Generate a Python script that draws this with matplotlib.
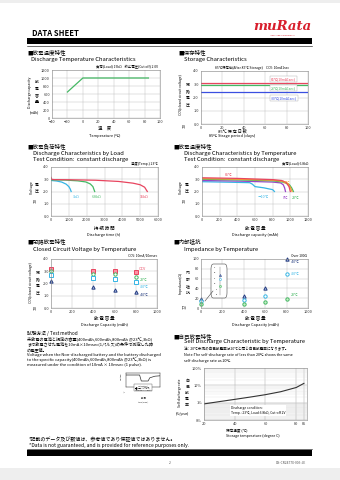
import matplotlib
matplotlib.use("Agg")
from matplotlib import pyplot as plt
from matplotlib.patches import Rectangle, FancyBboxPatch
from matplotlib.lines import Line2D

plt.rcParams['font.family'] = ['Noto Sans CJK JP', 'DejaVu Sans']

W, H = 340, 480

# discharge temperature characteristics
dt_temp = [-20, 0, 85]
dt_cap = [650, 1000, 1000]

# storage characteristics
st_days = [0, 100]
st_85 = [3.1, 3.1]
st_23 = [2.95, 2.95]
st_m30 = [2.4, 2.4]

# discharge by load (time h, voltage V)
ld_3k_t = [0, 300, 600, 850, 1000, 1080, 1130]
ld_3k_v = [2.9, 2.86, 2.77, 2.6, 2.4, 2.2, 2.0]
ld_68k_t = [0, 800, 1500, 1950, 2200, 2350, 2450]
ld_68k_v = [2.95, 2.93, 2.87, 2.78, 2.62, 2.4, 2.0]
ld_15k_t = [0, 30, 150, 1000, 2500, 3800, 4600, 5000, 5250, 5400]
ld_15k_v = [3.15, 3.0, 2.97, 2.96, 2.92, 2.82, 2.68, 2.55, 2.35, 2.0]

# discharge by temperature (capacity mAh, voltage V)
tp_85_c = [0, 400, 800, 900, 950, 985, 1000]
tp_85_v = [3.12, 3.07, 2.97, 2.9, 2.75, 2.4, 2.0]
tp_60_c = [0, 400, 800, 920, 970, 1000, 1020]
tp_60_v = [3.05, 3.0, 2.92, 2.83, 2.65, 2.35, 2.0]
tp_23_c = [0, 400, 800, 930, 990, 1015, 1035]
tp_23_v = [3.0, 2.95, 2.87, 2.75, 2.55, 2.3, 2.0]
tp_0_c = [0, 400, 800, 890, 920, 935, 945]
tp_0_v = [2.9, 2.85, 2.77, 2.7, 2.55, 2.3, 2.0]
tp_m10_c = [0, 300, 540, 570, 600, 700, 800, 820]
tp_m10_v = [2.8, 2.76, 2.72, 2.6, 2.4, 2.3, 2.15, 2.0]

# closed circuit voltage by temperature
ccv_cap = [0, 400, 600, 800]
ccv_ocv = [3.2, 3.0, 3.0, 2.9]
ccv_23 = [3.05, 2.8, 2.75, 2.5]
ccv_m20 = [2.7, 2.45, 2.35, 2.1]
ccv_m40 = [2.2, 1.75, 1.5, 1.3]

# impedance by temperature
imp_cap = [0, 400, 600, 800]
imp_m40 = [18, 24, 40, 100]
imp_m20 = [14, 17, 25, 70]
imp_23 = [8, 8, 12, 18]

# self discharge rate
sd_temp = [20, 30, 40, 50, 60, 70, 80, 85]
sd_rate = [0.85, 1.15, 1.55, 2.1, 2.9, 4.3, 7.5, 13]

RED = '#e8455f'
GREEN = '#45b864'
BLUE = '#3a4fe0'
CYAN = '#35b5e5'
NAVY = '#243c80'
PURPLE = '#9a45c8'
ORANGE = '#f5a030'

fig = plt.figure(figsize=(W / 100, H / 100), dpi=100)


def px_axes(x0, y0, x1, y1):
    return fig.add_axes([x0 / W, 1 - y1 / H, (x1 - x0) / W, (y1 - y0) / H])


def t(x, y, s, size=3.2, **kw):
    kw.setdefault('va', 'center')
    fig.text(x / W, 1 - y / H, s, fontsize=size, **kw)


def style(ax, xlim, xticks, ylim, yticks, yfmt=None):
    ax.set_xlim(*xlim)
    ax.set_ylim(*ylim)
    ax.set_xticks(xticks)
    ax.set_yticks(yticks)
    if yfmt:
        ax.set_yticklabels([yfmt.format(v) for v in yticks])
    ax.tick_params(labelsize=2.8, length=0, pad=1.5, colors='#333333')
    ax.grid(True, color='#bbbbbb', lw=0.3)
    for sp in ax.spines.values():
        sp.set_color('#888888')
        sp.set_linewidth(0.4)


def rect(x0, y0, x1, y1, color):
    fig.patches.append(Rectangle((x0 / W, 1 - y1 / H), (x1 - x0) / W, (y1 - y0) / H,
                                 transform=fig.transFigure, color=color, lw=0))


def hline(x0, x1, y, lw=0.5, color='black'):
    fig.lines.append(Line2D([x0 / W, x1 / W], [1 - y / H, 1 - y / H],
                            transform=fig.transFigure, color=color, lw=lw))


# header
rect(0, 0, W, 3, '#eeeeee')
rect(0, 468, W, H, '#eeeeee')
t(32, 33, 'DATA SHEET', size=5.5, weight='bold')
t(282, 26, 'muRata', size=9.5, weight='bold', style='italic', color='#d81e2c', ha='center',
  family='DejaVu Serif')
t(282, 35, 'INNOVATOR IN ELECTRONICS', size=1.3, color='#d81e2c', ha='center')
rect(27, 38, 312, 44, 'black')
hline(27, 312, 45.5, lw=0.4)

# ---- chart 1: discharge temperature
t(27, 52, '■放電温度特性', size=4)
t(31, 59, 'Discharge Temperature Characteristics', size=4.2)
ax = px_axes(52, 70, 160, 118)
style(ax, (-40, 100), range(-40, 101, 20), (0, 1200), range(0, 1201, 200))
ax.plot(dt_temp, dt_cap, color=GREEN, lw=0.9)
t(158, 67, '負荷(Load) 15kΩ    終止電圧(Cut off) 2.0V', size=2.4, ha='right')
t(30, 92, 'Discharge capacity', size=2.6, rotation=90, ha='center')
t(37, 92, '放\n電\n容\n量', size=2.8, ha='center', linespacing=1.9)
t(34, 112, '(mAh)', size=2.4, ha='center')
t(105, 128, '温　度', size=3.2, ha='center')
t(105, 136, 'Temperature (℃)', size=2.8, ha='center')

# ---- chart 2: storage
t(178, 52, '■保存特性', size=4)
t(184, 59, 'Storage Characteristics', size=4.2)
ax = px_axes(201, 71, 308, 124)
style(ax, (0, 100), range(0, 101, 20), (0, 4), [0, 1, 2, 3, 4], '{:.1f}')
ax.plot(st_days, st_85, color=RED, lw=0.9)
ax.plot(st_days, st_23, color=GREEN, lw=0.9)
ax.plot(st_days, st_m30, color=BLUE, lw=0.9)
t(252, 68, '85℃保存後(After 85℃ Storage)    CCV: 10mA1sec', size=2.4, ha='center')
for y, s, c in [(79, '85℃(10mA1sec)', RED), (88, '23℃(10mA1sec)', GREEN), (98, '-30℃(10mA1sec)', BLUE)]:
    t(271, y, s, size=2.4, color=c, bbox=dict(boxstyle='square,pad=0.2', fc='white', ec='#aaaaaa', lw=0.3))
t(181, 95, 'CCV(closed circuit voltage)', size=2.4, rotation=90, ha='center')
t(188, 95, '閉\n路\n電\n圧', size=2.8, ha='center', linespacing=1.9)
t(184, 126, '(V)', size=2.4, ha='center')
t(232, 131, '85℃ 保 存 日 数', size=3.0, ha='center')
t(232, 136, '85℃ Strage period (days)', size=2.8, ha='center')

# ---- chart 3: discharge by load
t(27, 146, '■放電負荷特性', size=4)
t(33, 153, 'Discharge Characteristics by Load', size=4.2)
t(33, 159, 'Test Condition:  constant discharge', size=4.2)
ax = px_axes(51, 167, 158, 216)
style(ax, (0, 6000), range(0, 6001, 1000), (0, 4), [0, 1, 2, 3, 4], '{:.1f}')
ax.plot(ld_3k_t, ld_3k_v, color=CYAN, lw=0.9)
ax.plot(ld_68k_t, ld_68k_v, color=GREEN, lw=0.9)
ax.plot(ld_15k_t, ld_15k_v, color=RED, lw=0.9)
t(158, 163.5, '温度(Temp.) 23℃', size=2.4, ha='right')
t(73, 197, '3kΩ', size=2.6, color=CYAN)
t(92, 197, '6.8kΩ', size=2.6, color=GREEN)
t(140, 197, '15kΩ', size=2.6, color=RED)
t(32, 188, 'Voltage', size=2.6, rotation=90, ha='center')
t(37, 188, '電\n圧', size=2.8, ha='center', linespacing=1.9)
t(35, 201, '(V)', size=2.4, ha='center')
t(104, 228, '持 続 時 間', size=3.2, ha='center')
t(104, 235, 'Discharge time (h)', size=2.8, ha='center')

# ---- chart 4: discharge by temperature
t(173, 146, '■放電温度特性', size=4)
t(184, 153, 'Discharge Characteristics by Temperature', size=4.2)
t(184, 159, 'Test Condition:  constant discharge', size=4.2)
ax = px_axes(202, 167, 308, 216)
style(ax, (0, 1200), range(0, 1201, 200), (0, 4), [0, 1, 2, 3, 4], '{:.1f}')
ax.plot(tp_m10_c, tp_m10_v, color=CYAN, lw=0.9)
ax.plot(tp_0_c, tp_0_v, color=PURPLE, lw=0.9)
ax.plot(tp_23_c, tp_23_v, color=GREEN, lw=0.9)
ax.plot(tp_60_c, tp_60_v, color=ORANGE, lw=0.9)
ax.plot(tp_85_c, tp_85_v, color=RED, lw=0.9)
t(308, 163.5, '負荷(Load) 6.8kΩ', size=2.4, ha='right')
t(225, 175, '85℃', size=2.6, color=RED)
t(283, 183, '60℃', size=2.6, color=ORANGE)
t(292, 198, '23℃', size=2.6, color=GREEN)
t(283, 198, '0℃', size=2.6, color=PURPLE)
t(258, 197, '－10℃', size=2.6, color=CYAN)
t(181, 188, 'Voltage', size=2.6, rotation=90, ha='center')
t(187, 188, '電\n圧', size=2.8, ha='center', linespacing=1.9)
t(184, 201, '(V)', size=2.4, ha='center')
t(255, 228, '放 電 容 量', size=3.2, ha='center')
t(255, 235, 'Discharge capacity (mAh)', size=2.8, ha='center')

# ---- chart 5: closed circuit voltage
t(27, 241, '■閉路放電特性', size=4)
t(33, 249, 'Closed Circuit Voltage by Temperature', size=4.2)
ax = px_axes(51, 259, 157, 308)
style(ax, (0, 1000), range(0, 1001, 200), (0, 4), [0, 1, 2, 3, 4], '{:.1f}')
mk = dict(ms=2.4, mew=0.7, ls='none', clip_on=False)
ax.plot(ccv_cap, ccv_ocv, marker='s', color=RED, mfc='#ff8fa5', **mk)
ax.plot(ccv_cap, ccv_23, marker='o', color=GREEN, mfc='white', **mk)
ax.plot(ccv_cap, ccv_m20, marker='s', color=CYAN, mfc='white', **mk)
ax.plot(ccv_cap, ccv_m40, marker='^', color=NAVY, mfc='#b8c8f0', **mk)
t(157, 255.5, 'CCV: 10mA/10msec', size=2.4, ha='right')
t(139, 269, 'OCV', size=2.6, color=RED)
t(140, 280, '23℃', size=2.6, color=GREEN)
t(140, 287, '-20℃', size=2.6, color=CYAN)
t(140, 295, '-40℃', size=2.6, color=NAVY)
t(31, 283, 'CCV(closed circuit voltage)', size=2.4, rotation=90, ha='center')
t(38, 283, '閉\n路\n電\n圧', size=2.8, ha='center', linespacing=1.9)
t(35, 308, '(V)', size=2.4, ha='center')
t(104, 318, '放 電 容 量', size=3.2, ha='center')
t(104, 325, 'Discharge Capacity (mAh)', size=2.8, ha='center')

# ---- chart 6: impedance
t(173, 241, '■内部抵抗', size=4)
t(184, 249, 'Impedance by Temperature', size=4.2)
ax = px_axes(201, 259, 308, 308)
style(ax, (0, 1000), range(0, 1001, 200), (0, 100), range(0, 101, 20))
ax.plot(imp_cap[:3], imp_m40[:3], marker='^', color=NAVY, mfc='#b8c8f0', **mk)
ax.plot(imp_cap, imp_m20, marker='o', color=CYAN, mfc='white', **mk)
ax.plot(imp_cap, imp_23, marker='o', color=GREEN, mfc='#c8f0c8', **mk)
ax.plot(imp_cap[3:], imp_m40[3:], marker='^', color=NAVY, mfc='#b8c8f0', **mk)
t(291, 256, 'Over 100Ω', size=2.4)
t(291, 262, '-40℃', size=2.6, color=NAVY)
t(291, 274, '-20℃', size=2.6, color=CYAN)
t(291, 295, '23℃', size=2.6, color=GREEN)
t(181, 283, 'Impedance(Ω)', size=2.4, rotation=90, ha='center')
t(188, 283, '内\n部\n抵\n抗', size=2.8, ha='center', linespacing=1.9)
t(184, 307, '(Ω)', size=2.4, ha='center')
t(255, 318, '放 電 容 量', size=3.2, ha='center')
t(255, 325, 'Discharge Capacity (mAh)', size=2.8, ha='center')
# zoomed inset of the first points
ins = px_axes(211, 264, 227, 298)
ins.set_zorder(5)
ins.set_xlim(-1, 1)
ins.set_ylim(-3, 28)
ins.axis('off')
ins.add_patch(FancyBboxPatch((0, 0), 1, 1, boxstyle='round,pad=0,rounding_size=0.15',
                             transform=ins.transAxes, fc='white', ec='#444444', lw=0.4, clip_on=False))
ins.plot([0.1, 0.1], [0, 25], color='#666666', lw=0.3)
for v in range(0, 26, 5):
    ins.text(-0.3, v, str(v), fontsize=1.4, ha='right', va='center')
ins.plot([0.1], [imp_m40[0]], marker='^', color=NAVY, mfc='#b8c8f0', ms=1.5, mew=0.4)
ins.plot([0.1], [imp_m20[0]], marker='o', color=CYAN, mfc='white', ms=1.5, mew=0.4)
ins.plot([0.1], [imp_23[0]], marker='o', color=GREEN, mfc='#c8f0c8', ms=1.5, mew=0.4)
fig.lines.append(Line2D([213 / W, 205 / W], [1 - 291 / H, 1 - 301 / H],
                        transform=fig.transFigure, color='#444444', lw=0.4, zorder=6))

# ---- test method
t(27, 333, '試験方法 / Test method', size=3.4)
method = ['未放電の電池と規定の容量(400mAh,600mAh,800mAh @23℃,3kΩ)',
          'まで放電させた電池を10mA×10msec(1パルス)の条件で測定した時',
          'の電圧値。',
          'Voltage when the Non-discharged battery and the battery discharged',
          'to the specific capacity(400mAh,600mAh,800mAh @23℃,3kΩ) is',
          'measured under the condition of 10mA × 10msec (1 pulse).']
for i, s in enumerate(method):
    t(27, 339 + i * 5.2, s, size=3.0)
pa = px_axes(126, 373, 160, 387)
pulse_x = [0, 4, 4.5, 6.5, 7, 8.5, 10]
pulse_y = [3.0, 3.0, 1.5, 1.5, 2.3, 2.7, 2.8]
pa.plot(pulse_x, pulse_y, color='#333333', lw=0.5)
pa.set_xlim(0, 10)
pa.set_ylim(0, 3.5)
pa.set_xticks([])
pa.set_yticks([])
pa.grid(False)
for sp in pa.spines.values():
    sp.set_linewidth(0.3)
t(121, 377, 'Voltage', size=1.3, rotation=90, ha='center')
t(124, 392, '(V)', size=1.3, ha='center')
t(143, 388, 'Voltage(CCV)\n電圧測定(パルス終了)\nLoad and Pulse length', size=1.2, ha='center',
  bbox=dict(boxstyle='square,pad=0.2', fc='white', ec='#555555', lw=0.3))
t(143, 398, '時 間', size=1.5, ha='center')
t(143, 402, 'time (msec.)', size=1.3, ha='center')

# ---- chart 7: self discharge
t(173, 336, '■自己放電特性', size=4)
t(184, 342, 'Self Discharge Characteristic by Temperature', size=4.2)
t(184, 349, '注：20℃未満の自己放電率は20℃と同じ自己放電率になります。', size=2.6)
t(184, 355, 'Note:The self-discharge rate of less than 20℃ shows the same', size=2.7)
t(184, 361, 'self-discharge rate as 20℃.', size=2.7)
ax = px_axes(204, 368, 307, 420)
ax.set_yscale('log')
ax.set_xlim(20, 87)
ax.set_ylim(0.1, 100)
ax.set_xticks([20, 40, 60, 80, 85])
ax.set_yticks([0.1, 1, 10, 100])
ax.set_yticklabels(['0%', '1%', '10%', '100%'])
ax.tick_params(labelsize=2.8, length=0, pad=1.5, colors='#333333', which='both')
ax.grid(True, which='major', color='#aaaaaa', lw=0.35)
ax.grid(True, which='minor', axis='y', color='#dddddd', lw=0.25)
ax.axhspan(0.1, 1, color='#f2f2f2', lw=0)
for sp in ax.spines.values():
    sp.set_color('#888888')
    sp.set_linewidth(0.4)
ax.plot(sd_temp, sd_rate, color='#333333', lw=0.8)
ax.text(0.26, 0.1, 'Discharge condition:\nTemp.: 23℃, Load:6.8kΩ, Cut-off 2V', transform=ax.transAxes,
        fontsize=2.4, va='bottom', bbox=dict(boxstyle='square,pad=0.3', fc='white', ec='none'))
t(180, 393, 'Self discharge rate', size=2.4, rotation=90, ha='center')
t(187, 393, '自\n己\n放\n電\n率', size=2.8, ha='center', linespacing=1.7)
t(182, 414, '(%/year)', size=2.4, ha='center')
t(226, 431, '保存温度 (℃)', size=2.6)
t(226, 436, 'Storage temperature (degree C)', size=2.6)

# ---- footer
t(29, 439, '*記載のデータ及び数値は、参考値であり保証値ではありません。', size=3.6)
t(29, 445, '*Data is not guaranteed, and is provided for reference purposes only.', size=3.6)
hline(27, 312, 448.5, lw=0.4)
rect(27, 450, 312, 456, 'black')
t(170, 463, '2', size=2.4, ha='center', color='#555555')
t(306, 463, 'DS-CR2477X-005-JE', size=2.4, ha='right', color='#555555')

fig.savefig('out.png', dpi=100, facecolor='white')
